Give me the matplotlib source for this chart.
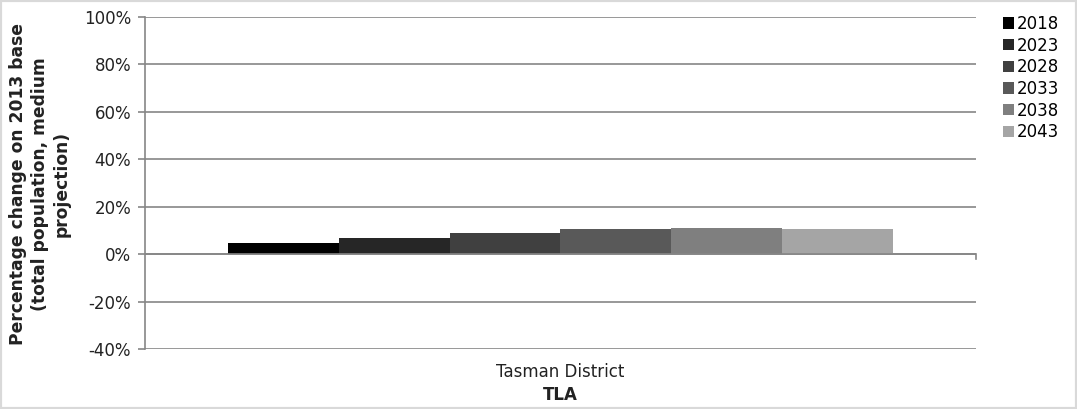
import matplotlib.pyplot as plt
from matplotlib.patches import Rectangle
import numpy as np

# data
category = 'Tasman District'
years = ['2018', '2023', '2028', '2033', '2038', '2043']
values = [4.5, 7.0, 9.0, 10.7, 11.2, 10.8]
colors = ['#000000', '#262626', '#404040', '#595959', '#7f7f7f', '#a5a5a5']
yticks = [-40, -20, 0, 20, 40, 60, 80, 100]

fig = plt.figure(figsize=(10.77, 4.09), dpi=100)
ax = fig.add_axes([0.1346, 0.1467, 0.9062 - 0.1346, 0.9584 - 0.1467])

n = len(years)
group = 0.8
w = group / n
for i in range(n):
    x = -group / 2 + w * (i + 0.5)
    ax.bar(x, values[i], width=w, color=colors[i], label=years[i], zorder=3)

ax.set_xlim(-0.5, 0.5)
ax.set_ylim(-40, 100)
ax.set_yticks(yticks)
ax.set_yticklabels([f'{t}%' for t in yticks], fontsize=12, color='#222222')
ax.yaxis.grid(True, color='#868686', linewidth=1.2)
ax.set_axisbelow(True)
for s in ['top', 'right', 'bottom']:
    ax.spines[s].set_visible(False)
ax.spines['left'].set_color('#868686')
ax.spines['left'].set_linewidth(1.2)
ax.tick_params(axis='y', length=5, color='#868686', width=1.2, pad=5)

# category axis at 0
ax.axhline(0, color='#868686', linewidth=1.2, zorder=4)
ax.plot([0.5, 0.5], [0, -2.2], color='#868686', linewidth=1.2, clip_on=False)
ax.set_xticks([])
ax.text(0, -49.5, category, ha='center', va='center', fontsize=12, color='#222222')
ax.text(0, -59.5, 'TLA', ha='center', va='center', fontsize=12, fontweight='bold', color='#222222')

fig.text(0.037, 0.55, 'Percentage change on 2013 base\n(total population, medium\nprojection)',
         rotation=90, ha='center', va='center', fontsize=12.3, fontweight='bold',
         linespacing=1.25, color='#222222')

fig.legend(loc='upper left', bbox_to_anchor=(0.925, 0.98), frameon=False,
           fontsize=12, handlelength=0.65, handleheight=0.65, handletextpad=0.2,
           labelspacing=0.22, borderaxespad=0)

fig.patches.append(Rectangle((0, 0), 1, 1, transform=fig.transFigure, fill=False,
                             edgecolor='#d9d9d9', linewidth=3))

plt.savefig('out.png', dpi=100)
